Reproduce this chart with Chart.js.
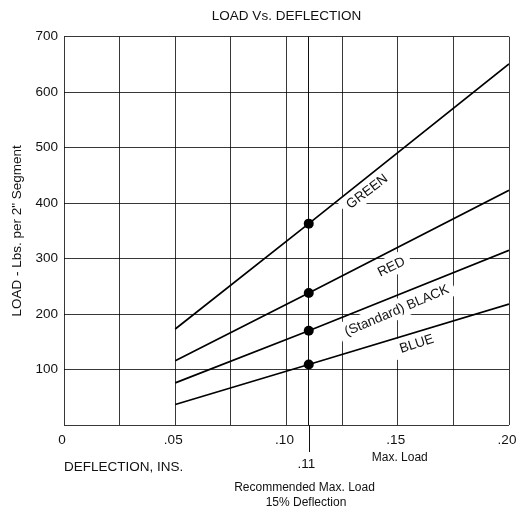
<!DOCTYPE html>
<html><head><meta charset="utf-8">
<script src="https://cdn.jsdelivr.net/npm/chart.js@4.4.0/dist/chart.umd.min.js"></script>
<style>html,body{margin:0;padding:0;background:#fff}#wrap{width:516px;height:508px}</style>
</head><body><div id="wrap"><canvas id="c" width="516" height="508"></canvas></div>
<script>
// ---- data ----
const deflection = [0.05, 0.11, 0.20];
const green = [173, 363, 651];
const red = [116, 238, 423];
const black = [76, 170, 315];
const blue = [37, 109, 218];
const seriesNames = ['GREEN', 'RED', '(Standard) BLACK', 'BLUE'];
const xTickValues = [0, 0.05, 0.10, 0.15, 0.20];
const xTickLabels = ['0', '.05', '.10', '.15', '.20'];
const yTickValues = [100, 200, 300, 400, 500, 600, 700];
const yTickLabels = ['100', '200', '300', '400', '500', '600', '700'];
const recommendedX = 0.11;

const FONT = '"Liberation Sans", Arial, Helvetica, sans-serif';
Chart.defaults.font.family = FONT;
Chart.defaults.color = '#111';
const GRID = 'rgba(0,0,0,0.78)';

const series = [green, red, black, blue];

// label placement (data coordinates of label centre + angle in degrees)
const labelPlacement = [
  {x: 0.1360, y: 422, a: -37},
  {x: 0.1470, y: 286, a: -26},
  {x: 0.1494, y: 207.6, a: -23},
  {x: 0.1584, y: 147.7, a: -18}
];

const annotate = {
  id: 'annotate',
  beforeDatasetsDraw(chart) {
    const {ctx} = chart;
    const xs = chart.scales.x, ys = chart.scales.y;
    ctx.save();
    ctx.font = '13.5px ' + FONT;
    seriesNames.forEach((name, i) => {
      const p = labelPlacement[i];
      const px = xs.getPixelForValue(p.x), py = ys.getPixelForValue(p.y);
      const w = ctx.measureText(name).width;
      ctx.save();
      ctx.translate(px, py);
      ctx.rotate(p.a * Math.PI / 180);
      ctx.fillStyle = '#fff';
      ctx.fillRect(-w / 2 - 6, -10, w + 12, 20);
      ctx.fillStyle = '#111';
      ctx.textAlign = 'center';
      ctx.textBaseline = 'middle';
      ctx.fillText(name, 0, 1);
      ctx.restore();
    });
    ctx.restore();
  },
  afterDraw(chart) {
    const {ctx, chartArea} = chart;
    const xs = chart.scales.x;
    const x11 = Math.round(xs.getPixelForValue(recommendedX)) + 0.5;
    ctx.save();
    ctx.strokeStyle = '#111';
    ctx.lineWidth = 1;
    ctx.beginPath();
    ctx.moveTo(x11, chartArea.bottom);
    ctx.lineTo(x11, chartArea.bottom + 27);
    ctx.stroke();
    ctx.fillStyle = '#111';
    ctx.textAlign = 'center';
    ctx.textBaseline = 'middle';
    ctx.font = '13.5px ' + FONT;
    ctx.fillText('.11', x11 - 3, chartArea.bottom + 39.5);
    ctx.font = '12px ' + FONT;
    ctx.fillText('Max. Load', xs.getPixelForValue(0.15) + 2, chartArea.bottom + 33);
    ctx.fillText('Recommended Max. Load', x11 - 5, chartArea.bottom + 62.5);
    ctx.fillText('15% Deflection', x11 - 3.5, chartArea.bottom + 77.5);
    ctx.restore();
  }
};

const near = (a, b) => Math.abs(a - b) < 1e-9;

new Chart(document.getElementById('c'), {
  type: 'scatter',
  data: {
    datasets: series.map((vals, si) => ({
      label: seriesNames[si],
      data: deflection.map((x, i) => ({x, y: vals[i]})),
      showLine: true,
      borderColor: '#000',
      borderWidth: 1.7,
      backgroundColor: '#000',
      pointBackgroundColor: '#000',
      pointBorderWidth: 0,
      pointRadius: ctx => near(deflection[ctx.dataIndex], recommendedX) ? 5 : 0,
      pointHoverRadius: 5
    }))
  },
  options: {
    responsive: false,
    animation: false,
    devicePixelRatio: 1,
    layout: {padding: {top: 0, left: 0, right: 7, bottom: 33}},
    plugins: {
      legend: {display: false},
      tooltip: {enabled: false},
      title: {
        display: true,
        text: 'LOAD Vs. DEFLECTION',
        fullSize: false,
        color: '#111',
        font: {size: 13.5, weight: 'normal', family: FONT},
        padding: {top: 8.5, bottom: 12}
      }
    },
    scales: {
      x: {
        type: 'linear',
        min: 0, max: 0.2,
        afterBuildTicks: s => {
          s.ticks.push({value: recommendedX});
          s.ticks.sort((a, b) => a.value - b.value);
        },
        afterFit: s => { s.height = 50; s.paddingLeft = 0; s.paddingRight = 0; },
        border: {display: false},
        grid: {
          drawTicks: false,
          lineWidth: 1,
          color: ctx => (ctx.tick && near(ctx.tick.value, recommendedX)) ? '#111' : GRID
        },
        ticks: {
          stepSize: 0.025,
          autoSkip: false,
          maxRotation: 0,
          padding: 7,
          labelOffset: -2,
          color: '#111',
          font: {size: 13.5},
          callback: v => {
            const i = xTickValues.findIndex(t => near(t, v));
            return i >= 0 ? xTickLabels[i] : '';
          }
        },
        title: {
          display: true,
          text: 'DEFLECTION, INS.',
          align: 'start',
          color: '#111',
          font: {size: 13.5},
          padding: {top: 0, bottom: 0}
        }
      },
      y: {
        min: 0, max: 700,
        afterFit: s => { s.width = 64; },
        border: {display: false},
        grid: {drawTicks: false, lineWidth: 1, color: GRID},
        ticks: {
          stepSize: 100,
          padding: 6,
          color: '#111',
          font: {size: 13.5},
          callback: v => {
            const i = yTickValues.indexOf(v);
            return i >= 0 ? yTickLabels[i] : '';
          }
        },
        title: {
          display: true,
          text: 'LOAD - Lbs. per 2" Segment',
          color: '#111',
          font: {size: 13.5},
          padding: {top: 9, bottom: 0}
        }
      }
    }
  },
  plugins: [annotate]
});
</script></body></html>
